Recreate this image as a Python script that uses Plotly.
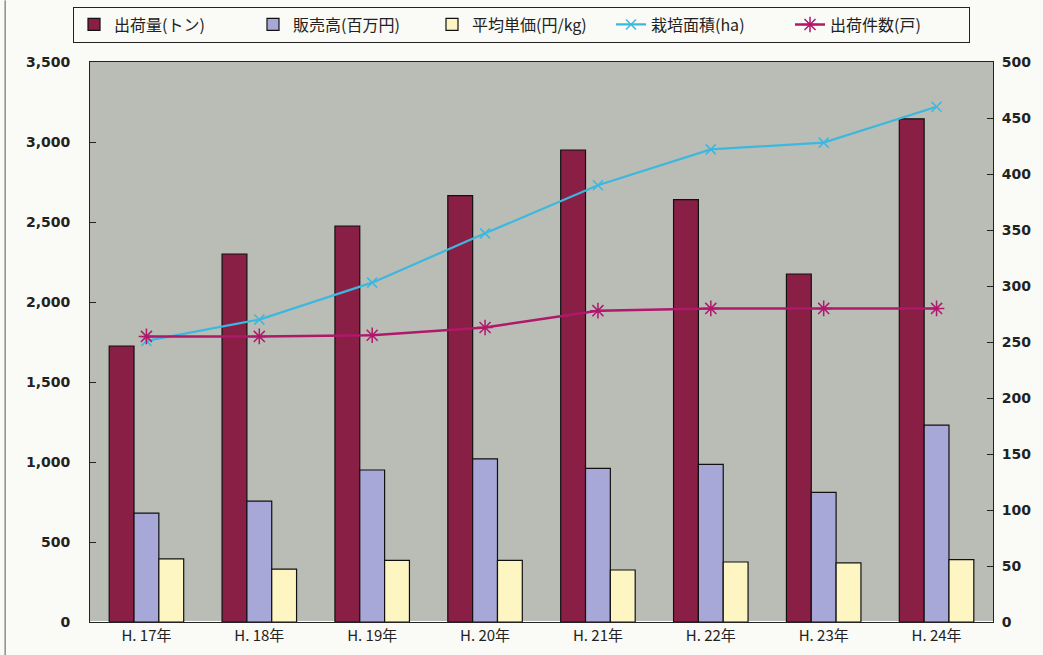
import plotly.graph_objects as go

years = ["H. 17年", "H. 18年", "H. 19年", "H. 20年", "H. 21年", "H. 22年", "H. 23年", "H. 24年"]
shipment_t = [1725, 2300, 2475, 2665, 2950, 2640, 2175, 3145]
sales_myen = [680, 755, 950, 1020, 960, 985, 810, 1230]
unit_price = [395, 330, 385, 385, 325, 375, 370, 390]
area_ha = [251, 270, 303, 347, 390, 422, 428, 460]
households = [255, 255, 256, 263, 278, 280, 280, 280]

fig = go.Figure()
fig.add_trace(go.Bar(x=years, y=shipment_t, name="出荷量(トン)",
                     marker=dict(color="#8a1f46", line=dict(color="#111", width=1.2))))
fig.add_trace(go.Bar(x=years, y=sales_myen, name="販売高(百万円)",
                     marker=dict(color="#a7a8d8", line=dict(color="#111", width=1.2))))
fig.add_trace(go.Bar(x=years, y=unit_price, name="平均単価(円/kg)",
                     marker=dict(color="#fdf6c3", line=dict(color="#111", width=1.2))))
fig.add_trace(go.Scatter(x=years, y=area_ha, name="栽培面積(ha)", yaxis="y2",
                         mode="lines+markers",
                         line=dict(color="#3cb8de", width=2.2),
                         marker=dict(symbol="x-thin", size=10, color="#3cb8de",
                                     line=dict(color="#3cb8de", width=1.5))))
fig.add_trace(go.Scatter(x=years, y=households, name="出荷件数(戸)", yaxis="y2",
                         mode="lines+markers",
                         line=dict(color="#b0186c", width=2.5),
                         marker=dict(symbol="asterisk", size=13, color="#b0186c",
                                     line=dict(color="#b0186c", width=1.5))))

tickfont = dict(family="DejaVu Sans, sans-serif", size=14, color="#222", weight="bold")
fig.update_layout(
    width=1043, height=655,
    paper_bgcolor="#fafaf6",
    plot_bgcolor="#babdb6",
    margin=dict(l=90, r=50, t=62, b=33, autoexpand=False),
    barmode="group",
    bargap=0.34,
    bargroupgap=0.0,
    font=dict(family="Noto Sans CJK JP, sans-serif", color="#222"),
    legend=dict(orientation="h", x=0.5, xanchor="center", xref="container",
                y=0.99, yanchor="top", yref="container",
                bgcolor="#fafaf6", bordercolor="#222", borderwidth=1,
                font=dict(family="Noto Sans CJK JP, sans-serif", size=16, color="#222"),
                entrywidth=134, entrywidthmode="pixels",
                traceorder="normal"),
    xaxis=dict(showline=True, linecolor="#222", linewidth=1, mirror=True,
               ticks="", tickfont=dict(family="Noto Sans CJK JP, sans-serif", size=15, color="#222"),
               showgrid=False),
    yaxis=dict(range=[0, 3500], dtick=500, tickformat=",", showgrid=False,
               showline=True, linecolor="#222", linewidth=1,
               ticks="inside", ticklen=6, tickcolor="#222",
               tickfont=tickfont, ticklabelstandoff=16),
    yaxis2=dict(range=[0, 500], dtick=50, overlaying="y", side="right", showgrid=False,
                showline=True, linecolor="#222", linewidth=1,
                ticks="inside", ticklen=6, tickcolor="#222",
                tickfont=tickfont, ticklabelstandoff=5, zeroline=False),
)
fig.add_shape(type="line", xref="paper", yref="paper", x0=-0.094, x1=-0.094, y0=-0.06, y1=1.11,
              line=dict(color="#555", width=1))
fig.write_html("out.html")
